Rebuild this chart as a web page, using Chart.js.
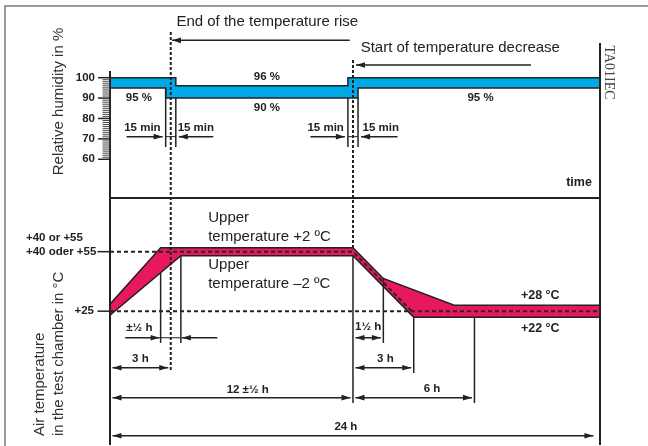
<!DOCTYPE html>
<html>
<head>
<meta charset="utf-8">
<script src="https://cdn.jsdelivr.net/npm/chart.js@4.4.0/dist/chart.umd.min.js"></script>
<style>
  html, body { margin: 0; padding: 0; background: #fff; }
  canvas { display: block; }
</style>
</head>
<body>
<canvas id="c" width="648" height="446"></canvas>
<script>
// Time axis, hours (runs a little past 24 h up to the right-hand frame line)
const TIME_END = 24.2;

// Relative humidity band, %
const humUpperTime = [0, 3.25, 3.25, 11.75, 11.75, TIME_END];
const humUpper     = [100, 100, 96, 96, 100, 100];
const humLowerTime = [0, 2.75, 2.75, 12.25, 12.25, TIME_END];
const humLower     = [95, 95, 90, 90, 95, 95];
const humTicks     = [100, 90, 80, 70, 60];

// Air temperature band, °C
const tempUpperTime = [0, 2.5, 12, 13.5, 17, TIME_END];
const tempUpper     = [28.5, 57, 57, 41.5, 28, 28];
const tempLowerTime = [0, 3.5, 12, 15, TIME_END];
const tempLower     = [23, 53, 53, 22, 22];

// Nominal upper temperature path and the +25 °C base line
const nominalTime = [0, 12, 14.9];
const nominalTemp = [55, 55, 25];
const baseTime    = [0, TIME_END];
const baseTemp    = [25, 25];

const tempTicks      = [55, 25];
const tempTickLabels = [['+40 or +55', '+40 oder +55'], ['+25']];

const SANS  = "'Liberation Sans', Arial, sans-serif";
const SERIF = "'Liberation Serif', 'Times New Roman', serif";
const INK   = '#222';

const pts = (xs, ys) => xs.map((x, i) => ({ x, y: ys[i] }));

function arrowHead(ctx, x, y, dir) {
  ctx.beginPath();
  ctx.moveTo(x, y);
  ctx.lineTo(x - dir * 9, y - 2.8);
  ctx.lineTo(x - dir * 9, y + 2.8);
  ctx.closePath();
  ctx.fill();
}

function seg(ctx, x1, y1, x2, y2, w, dash) {
  ctx.save();
  ctx.lineWidth = w;
  ctx.setLineDash(dash || []);
  ctx.beginPath();
  ctx.moveTo(x1, y1);
  ctx.lineTo(x2, y2);
  ctx.stroke();
  ctx.restore();
}

function label(ctx, str, x, y, font, align) {
  ctx.font = font;
  ctx.textAlign = align || 'center';
  ctx.textBaseline = 'middle';
  ctx.fillText(str, x, y);
}

const diagram = {
  id: 'diagram',
  afterDatasetsDraw(chart) {
    const ctx = chart.ctx;
    const sx = chart.scales.x, sh = chart.scales.yH, st = chart.scales.yT;
    const X = v => sx.getPixelForValue(v);
    const YH = v => sh.getPixelForValue(v);
    const YT = v => st.getPixelForValue(v);
    const area = chart.chartArea;

    ctx.save();
    ctx.strokeStyle = INK;
    ctx.fillStyle = INK;

    // outer frame
    ctx.save();
    ctx.strokeStyle = '#7a7a7a';
    ctx.lineWidth = 1.5;
    ctx.strokeRect(5, 6, 700, 500);
    ctx.restore();

    // frame of the two panels
    seg(ctx, X(0), YH(103.3), X(0), 445, 2);
    seg(ctx, X(TIME_END), area.top, X(TIME_END), 445, 2);
    seg(ctx, X(0), YH(41), X(TIME_END), YH(41), 2);

    // humidity ruler
    ctx.save();
    ctx.strokeStyle = '#444';
    for (let v = 60; v <= 100; v += 1) {
      if (v % 10 === 0) continue;
      seg(ctx, X(0) - 7.5, YH(v), X(0), YH(v), 1);
    }
    ctx.restore();
    humTicks.forEach(v => {
      seg(ctx, X(0) - 12, YH(v), X(0), YH(v), 1.5);
      label(ctx, String(v), X(0) - 15, YH(v), 'bold 11.5px ' + SANS, 'right');
    });

    // temperature ticks
    tempTicks.forEach((v, i) => {
      seg(ctx, X(0) - 12.5, YT(v), X(0), YT(v), 1.5);
      const lines = tempTickLabels[i];
      if (lines.length === 2) {
        label(ctx, lines[0], 26, YT(v) - 14, 'bold 11.5px ' + SANS, 'left');
        label(ctx, lines[1], 26, YT(v), 'bold 11.5px ' + SANS, 'left');
      } else {
        label(ctx, lines[0], X(0) - 16, YT(v), 'bold 11.5px ' + SANS, 'right');
      }
    });

    // time markers: end of rise (3 h) and start of decrease (12 h)
    seg(ctx, X(3), YH(122.4), X(3), YT(-5.7), 2, [3, 2]);
    seg(ctx, X(12), YH(108.7), X(12), YT(57), 2, [3, 2]);

    // extension lines, humidity panel
    [[2.75, 95], [3.25, 90], [11.75, 90], [12.25, 90]].forEach(([t, v]) =>
      seg(ctx, X(t), YH(v), X(t), YH(66), 1.5));
    // extension lines, temperature panel
    [[2.5, 44.4, 9], [3.5, 53, 9], [12, 53, -21.3], [13.5, 41.5, 9], [15, 22, -6.2], [18, 22, -21.3]]
      .forEach(([t, a, b]) => seg(ctx, X(t), YT(a), X(t), YT(b), 1.5));

    // single arrows pointing at a marker
    const single = (tail, tip, y) => {
      seg(ctx, X(tail), y, X(tip), y, 1.5);
      arrowHead(ctx, X(tip), y, tip > tail ? 1 : -1);
    };
    // dimension arrow between two markers
    const span = (a, b, y) => {
      const xa = X(a) + 2.5, xb = X(b) - 2.5;
      seg(ctx, xa, y, xb, y, 1.5);
      arrowHead(ctx, xa, y, -1);
      arrowHead(ctx, xb, y, 1);
    };

    // 15 min tolerances
    const rowH = YH(71.1);
    single(0.82, 2.6, rowH); single(5.1, 3.4, rowH);
    single(9.9, 11.6, rowH); single(14.2, 12.4, rowH);
    seg(ctx, X(2.75), rowH, X(3.25), rowH, 1);
    seg(ctx, X(11.75), rowH, X(12.25), rowH, 1);
    const minFont = 'bold 11.5px ' + SANS;
    label(ctx, '15 min', X(1.6), YH(75.5), minFont);
    label(ctx, '15 min', X(4.24), YH(75.5), minFont);
    label(ctx, '15 min', X(10.65), YH(75.5), minFont);
    label(ctx, '15 min', X(13.37), YH(75.5), minFont);

    // humidity values
    label(ctx, '96 %', X(7.75), YH(100.3), minFont);
    label(ctx, '90 %', X(7.75), YH(85.1), minFont);
    label(ctx, '95 %', X(1.43), YH(90), minFont);
    label(ctx, '95 %', X(18.3), YH(90), minFont);
    label(ctx, 'time', X(23.8), YH(48.4), 'bold 12.5px ' + SANS, 'right');

    // ±½ h around the end of the rise
    const rowA = YT(11.6);
    single(0.75, 2.45, rowA); single(5.3, 3.55, rowA);
    seg(ctx, X(2.5), rowA, X(3.5), rowA, 1);
    label(ctx, '±½ h', X(1.45), YT(16.7), minFont);

    // durations
    const spans = [
      [0, 3, -3.5, '3 h', 1.5, 0.9],
      [0, 12, -18.6, '12 ±½ h', 6.8, -14.7],
      [0, 24, -37.8, '24 h', 11.65, -33.2],
      [12, 13.5, 11.6, '1½ h', 12.75, 16.9],
      [12, 15, -3.5, '3 h', 13.6, 0.9],
      [12, 18, -18.6, '6 h', 15.9, -14.2]
    ];
    spans.forEach(([a, b, y, txt, lx, ly]) => {
      span(a, b, YT(y));
      label(ctx, txt, X(lx), YT(ly), minFont);
    });

    // temperature band labels
    label(ctx, '+28 °C', X(21.25), YT(32.7), 'bold 12.5px ' + SANS);
    label(ctx, '+22 °C', X(21.25), YT(16.4), 'bold 12.5px ' + SANS);
    const regular = '15px ' + SANS;
    label(ctx, 'Upper', X(4.85), YT(72.2), regular, 'left');
    label(ctx, 'temperature +2 ºC', X(4.85), YT(62.6), regular, 'left');
    label(ctx, 'Upper', X(4.85), YT(48.3), regular, 'left');
    label(ctx, 'temperature –2 ºC', X(4.85), YT(38.7), regular, 'left');

    // headline arrows
    seg(ctx, X(11.84), YH(118.3), X(3.06), YH(118.3), 1.5);
    arrowHead(ctx, X(3.06), YH(118.3), -1);
    label(ctx, 'End of the temperature rise', X(3.28), YH(127.3), regular, 'left');
    seg(ctx, X(20.79), YH(106.2), X(12.15), YH(106.2), 1.5);
    arrowHead(ctx, X(12.15), YH(106.2), -1);
    label(ctx, 'Start of temperature decrease', X(12.38), YH(114.6), regular, 'left');

    // axis titles
    ctx.save();
    ctx.fillStyle = '#333';
    ctx.translate(59, 101.5);
    ctx.rotate(-Math.PI / 2);
    label(ctx, 'Relative humidity in %', 0, 0, regular);
    ctx.restore();

    ctx.save();
    ctx.fillStyle = '#333';
    ctx.translate(39.5, 436);
    ctx.rotate(-Math.PI / 2);
    label(ctx, 'Air temperature', 0, 0, regular, 'left');
    label(ctx, 'in the test chamber in °C', 0, 19.5, regular, 'left');
    ctx.restore();

    // drawing reference
    ctx.save();
    ctx.fillStyle = '#444';
    ctx.translate(608.5, 72.5);
    ctx.rotate(Math.PI / 2);
    label(ctx, 'TA01IEC', 0, 0, '14px ' + SERIF);
    ctx.restore();

    ctx.restore();
  }
};

const bandLine = { borderColor: INK, borderWidth: 1.5, pointRadius: 0, tension: 0 };

new Chart(document.getElementById('c'), {
  type: 'line',
  data: {
    datasets: [
      Object.assign({ data: pts(humUpperTime, humUpper), yAxisID: 'yH',
        fill: '+1', backgroundColor: '#00a8e6' }, bandLine),
      Object.assign({ data: pts(humLowerTime, humLower), yAxisID: 'yH', fill: false }, bandLine),
      Object.assign({ data: pts(tempUpperTime, tempUpper), yAxisID: 'yT',
        fill: '+1', backgroundColor: '#e8185c' }, bandLine),
      Object.assign({ data: pts(tempLowerTime, tempLower), yAxisID: 'yT', fill: false }, bandLine),
      { data: pts(nominalTime, nominalTemp), yAxisID: 'yT', fill: false,
        borderColor: INK, borderWidth: 2, borderDash: [4, 3], pointRadius: 0 },
      { data: pts(baseTime, baseTemp), yAxisID: 'yT', fill: false,
        borderColor: INK, borderWidth: 2, borderDash: [4, 3], pointRadius: 0 }
    ]
  },
  options: {
    responsive: false,
    animation: false,
    events: [],
    layout: { padding: { left: 110, right: 48, top: 43, bottom: 5 } },
    scales: {
      x:  { type: 'linear', min: 0, max: TIME_END, display: false },
      yH: { type: 'linear', min: -78.1, max: 117.0, display: false },
      yT: { type: 'linear', min: -40.45, max: 160.2, display: false }
    },
    plugins: {
      legend: { display: false },
      tooltip: { enabled: false },
      filler: { drawTime: 'beforeDatasetsDraw' }
    }
  },
  plugins: [diagram]
});
</script>
</body>
</html>
